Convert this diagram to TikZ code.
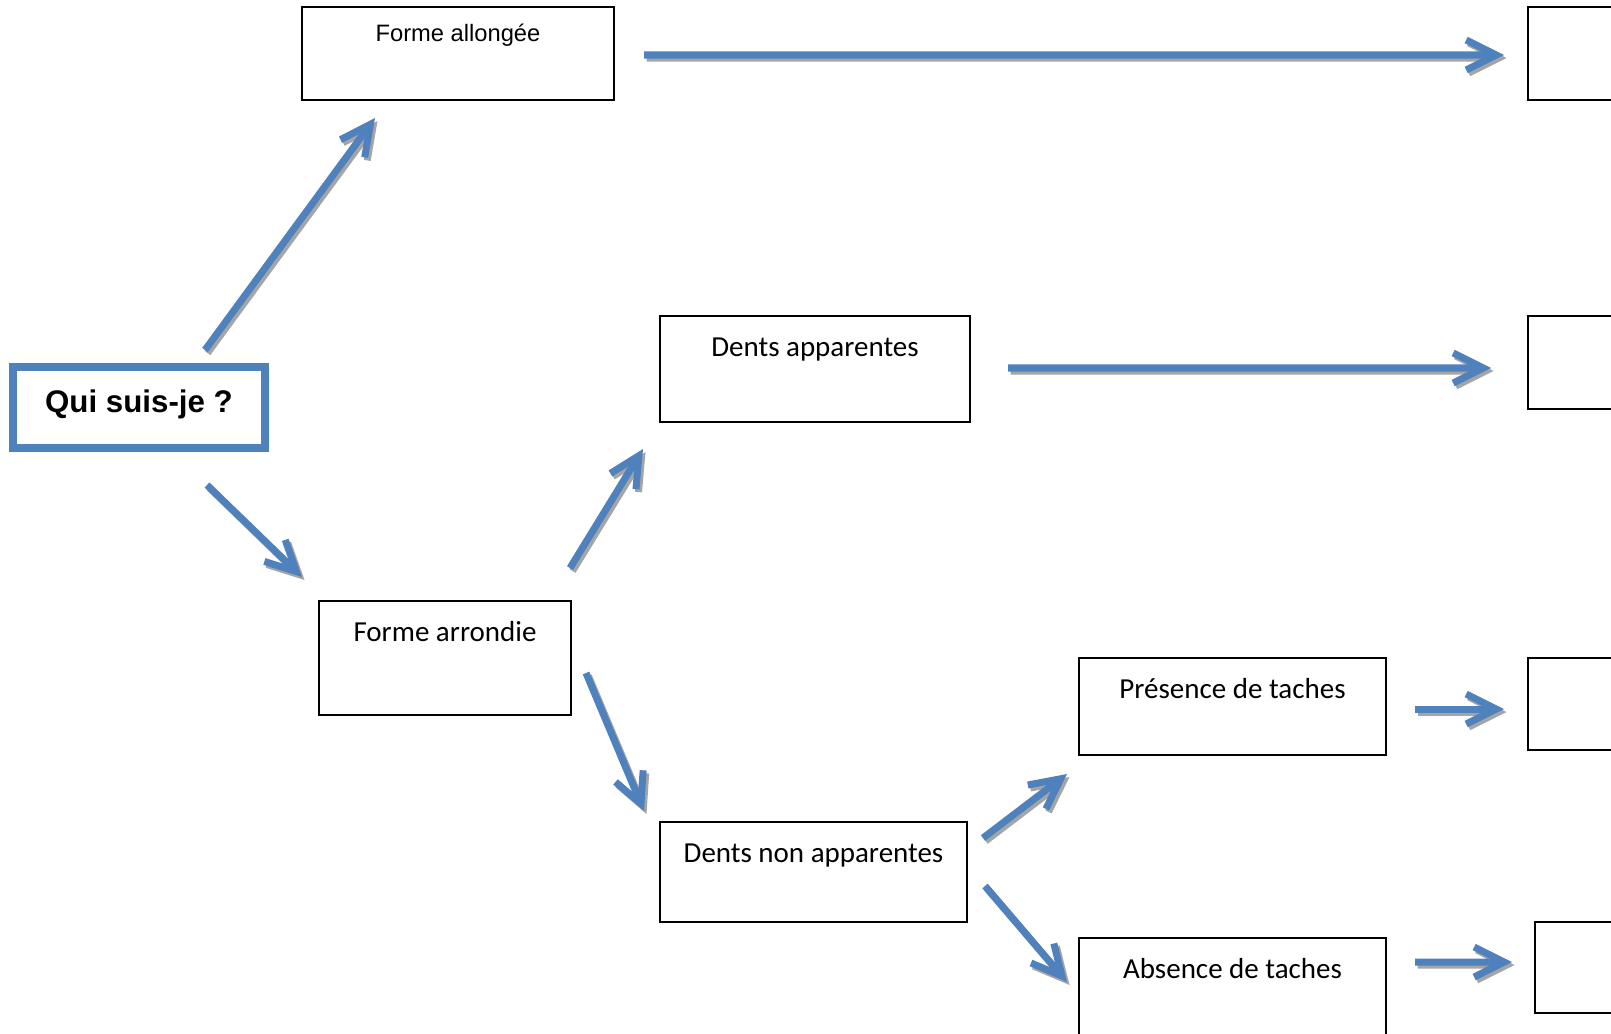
\documentclass[tikz,border=0pt]{standalone}
\usepackage{fontspec}
\setmainfont{Carlito}
\newfontfamily\arialfont{Liberation Sans}
\usetikzlibrary{arrows.meta}
\definecolor{arrblue}{HTML}{4F81BD}
\definecolor{shadowgray}{HTML}{A5A5A5}

% arrow with its grey shadow
\newcommand{\linkarrow}[2]{%
    \draw[arrshadow] (#1) -- (#2);
    \draw[arr] (#1) -- (#2);}

\begin{document}
\begin{tikzpicture}[
box/.style={
    draw,
    line width=1.6pt,
    inner sep=0pt,
    outer sep=0pt,
    anchor=north,
    text height=0.8cm,
    font=\fontsize{16.5}{20}\selectfont
    },
startbox/.style={
    draw=arrblue,
    line width=4.5pt,
    inner sep=0pt,
    outer sep=0pt,
    anchor=north,
    font=\arialfont\bfseries\fontsize{17.8}{21}\selectfont
    },
arr/.style={
    draw=arrblue,
    line width=4pt,
    -{Straight Barb[length=0.6cm,width=0.6cm]},
    },
arrshadow/.style={
    arr,
    draw=shadowgray,
    transform canvas={shift={(0.05,-0.06)}}
    },
]
\useasboundingbox (0,0) rectangle (32.22,-20.66);
\clip (0,0) rectangle (32.22,-20.66);

% left part
\node[startbox, minimum width=5.04cm, text height=0.9cm, text depth=0.72cm] (qui) at (2.78,-7.34) {Qui suis-je ?};
\node[box, minimum width=6.24cm, text height=0.68cm, text depth=1.18cm,
    font=\arialfont\fontsize{13.5}{16}\selectfont] (allongee) at (9.16,-0.14) {Forme allongée};
\node[box, minimum width=5.04cm, text depth=1.48cm] (arrondie) at (8.9,-12.02) {Forme arrondie};

% middle part
\node[box, minimum width=6.2cm, text depth=1.32cm] (apparentes) at (16.3,-6.32) {Dents apparentes};
\node[box, minimum width=6.14cm, text depth=1.2cm] (nonapp) at (16.27,-16.44) {Dents non apparentes};
\node[box, minimum width=6.14cm, text depth=1.14cm] (presence) at (24.65,-13.16) {Présence de taches};
\node[box, minimum width=6.14cm, text depth=1.64cm] (absence) at (24.65,-18.76) {Absence de taches};

% empty boxes on the right
\node[box, minimum width=3.44cm, text depth=1.06cm] (r1) at (32.28,-0.14) {};
\node[box, minimum width=3.44cm, text depth=1.06cm] (r2) at (32.28,-6.32) {};
\node[box, minimum width=3.44cm, text depth=1.04cm] (r3) at (32.28,-13.16) {};
\node[box, minimum width=3.44cm, text depth=1.02cm] (r4) at (32.42,-18.44) {};

% arrows
\linkarrow{[xshift=1.32cm,yshift=0.34cm]qui.north}{[xshift=1.46cm,yshift=-0.36cm]allongee.south west}
\linkarrow{[xshift=1.36cm,yshift=-0.74cm]qui.south}{[xshift=-0.34cm,yshift=0.48cm]arrondie.north west}
\linkarrow{[xshift=0.6cm,yshift=-0.03cm]allongee.east}{[xshift=-0.48cm,yshift=-0.03cm]r1.west}
\linkarrow{[xshift=-0.02cm,yshift=0.66cm]arrondie.north east}{[xshift=-0.34cm,yshift=-0.54cm]apparentes.south west}
\linkarrow{[xshift=0.3cm,yshift=-0.3cm]arrondie.east}{[xshift=-0.32cm,yshift=0.22cm]nonapp.north west}
\linkarrow{[xshift=0.76cm,yshift=0.02cm]apparentes.east}{[xshift=-0.74cm,yshift=-0.11cm]r2.west}
\linkarrow{[xshift=0.32cm,yshift=0.68cm]nonapp.east}{[xshift=-0.24cm,yshift=-0.38cm]presence.south west}
\linkarrow{[xshift=0.36cm,yshift=-0.28cm]nonapp.east}{[xshift=-0.24cm,yshift=-0.88cm]absence.north west}
\linkarrow{[xshift=0.58cm,yshift=-0.05cm]presence.east}{[xshift=-0.48cm,yshift=-0.1cm]r3.west}
\linkarrow{[xshift=0.58cm,yshift=-0.48cm]absence.north east}{[xshift=-0.46cm,yshift=0.11cm]r4.west}
\end{tikzpicture}
\end{document}
